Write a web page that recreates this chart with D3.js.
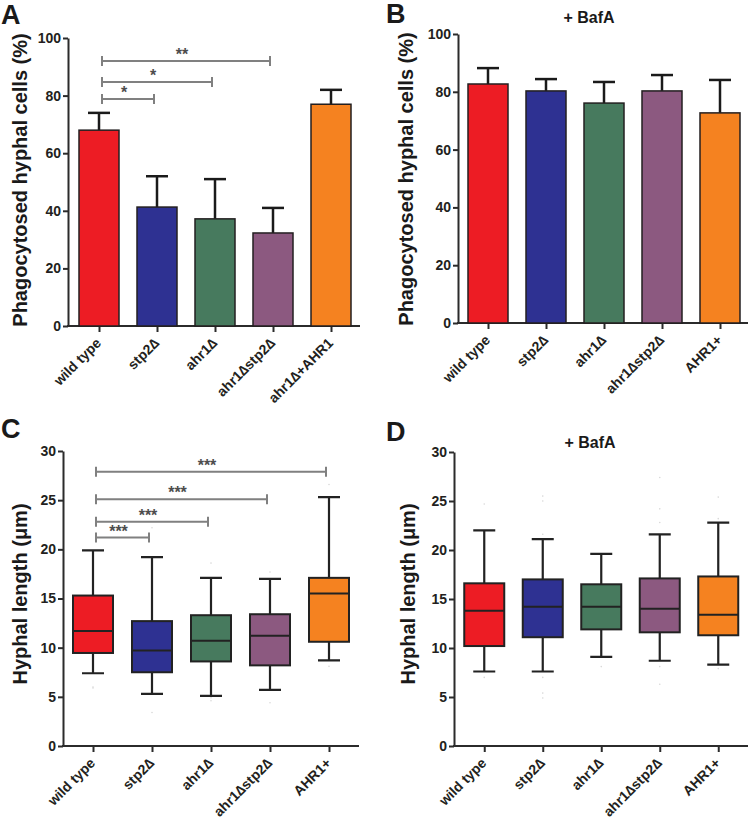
<!DOCTYPE html>
<html>
<head>
<meta charset="utf-8">
<script src="https://cdn.jsdelivr.net/npm/d3@7/dist/d3.min.js"></script>
<style>
  body { margin: 0; background: #fff; }
  svg { display: block; font-family: "Liberation Sans", Arial, Helvetica, sans-serif; }
</style>
</head>
<body>
<svg id="chart" width="750" height="823"></svg>
<script>
// ---------------- DATA ----------------
const categoriesA = ["wild type", "stp2\u2206", "ahr1\u2206", "ahr1\u2206stp2\u2206", "ahr1\u2206+AHR1"];
const categoriesB = ["wild type", "stp2\u2206", "ahr1\u2206", "ahr1\u2206stp2\u2206", "AHR1+"];
const colors = ["#ED1C24", "#2E3192", "#477A5E", "#8C5980", "#F58220"];

// Panel A: phagocytosed hyphal cells (%), mean and SD
const meanA = [68, 41.3, 37.2, 32.3, 77];
const sdA = [6, 10.7, 13.8, 8.7, 5];
// significance brackets A: [from index, to index, y value, label]
const bracketsA = [[0, 3, 92, "**"], [0, 2, 84.7, "*"], [0, 1, 78.8, "*"]];

// Panel B: + BafA
const meanB = [82.7, 80.3, 76.1, 80.3, 72.7];
const sdB = [5.5, 4.1, 7.3, 5.5, 11.4];

// Panel C: hyphal length (µm) box plots
const whiskerLowC = [7.4, 5.3, 5.1, 5.7, 8.7];
const q1C = [9.46, 7.5, 8.6, 8.2, 10.6];
const medianC = [11.7, 9.7, 10.7, 11.2, 15.5];
const q3C = [15.3, 12.7, 13.3, 13.4, 17.1];
const whiskerHighC = [19.9, 19.2, 17.1, 17.0, 25.3];
const outliersC = [[6.0, 5.9], [3.4, 22.2], [18.6, 4.9, 4.6], [17.7, 4.4], [26.6, 8.1]];
const bracketsC = [[0, 4, 27.9, "***"], [0, 3, 25.1, "***"], [0, 2, 22.8, "***"], [0, 1, 21.2, "***"]];

// Panel D: + BafA
const whiskerLowD = [7.6, 7.6, 9.1, 8.7, 8.3];
const q1D = [10.2, 11.1, 11.9, 11.6, 11.3];
const medianD = [13.8, 14.2, 14.2, 14.0, 13.4];
const q3D = [16.6, 17.0, 16.5, 17.1, 17.3];
const whiskerHighD = [22.0, 21.1, 19.6, 21.6, 22.8];
const outliersD = [[24.7, 7.0], [25.5, 25.0, 21.6, 7.0, 5.4, 4.9], [8.1], [27.4, 24.2, 22.8, 8.1, 6.3], [25.4, 23.2, 7.9]];

const ticksPct = [0, 20, 40, 60, 80, 100];
const ticksLen = [0, 5, 10, 15, 20, 25, 30];

// ---------------- DRAW ----------------
const svg = d3.select("#chart");
const AX = "#2b2b2b";

function setupPanel(cfg, cats, yDomain, yTicks) {
  const g = svg.append("g");
  const x = d3.scalePoint().domain(cats).range(cfg.xRange).padding(0.5);
  const y = d3.scaleLinear().domain(yDomain).range([cfg.yBot, cfg.yTop]);

  // y axis
  const ya = g.append("g").attr("transform", `translate(${cfg.axisX},0)`)
    .call(d3.axisLeft(y).tickValues(yTicks).tickSize(5).tickSizeOuter(0).tickPadding(2));
  ya.select(".domain").attr("stroke", AX).attr("stroke-width", 2);
  ya.selectAll(".tick line").attr("stroke", AX).attr("stroke-width", 2);
  ya.selectAll(".tick text").attr("fill", "#231f20").attr("font-size", 14).attr("font-weight", "bold")
    .attr("font-family", "Liberation Sans, Arial, sans-serif");

  // x axis
  const xa = g.append("g").attr("transform", `translate(0,${cfg.yBot})`)
    .call(d3.axisBottom(x).tickSize(6).tickSizeOuter(0));
  xa.select(".domain").remove();
  xa.selectAll(".tick line").attr("stroke", AX).attr("stroke-width", 2);
  xa.selectAll(".tick text").remove();
  g.append("line").attr("x1", cfg.axisX - 1).attr("x2", cfg.xEnd)
    .attr("y1", cfg.yBot).attr("y2", cfg.yBot).attr("stroke", AX).attr("stroke-width", 2);

  // x tick labels rotated
  g.selectAll(".xl").data(cats).enter().append("text")
    .attr("transform", d => `translate(${x(d) + 3},${cfg.yBot + 18}) rotate(-45)`)
    .attr("text-anchor", "end").attr("font-size", 14).attr("font-weight", "bold")
    .attr("fill", "#231f20").text(d => d);

  // y axis title
  g.append("text")
    .attr("transform", `translate(${cfg.labelX},${cfg.labelY}) rotate(-90)`)
    .attr("text-anchor", "middle").attr("font-size", 20).attr("font-weight", "bold")
    .attr("fill", "#1a1a1a").text(cfg.yLabel);

  // panel letter
  g.append("text").attr("x", cfg.letterX).attr("y", cfg.letterY)
    .attr("font-size", 27).attr("font-weight", "bold").attr("fill", "#1a1a1a").text(cfg.letter);

  if (cfg.title) {
    g.append("text").attr("x", cfg.titleX).attr("y", cfg.titleY).attr("text-anchor", "middle")
      .attr("font-size", 16).attr("font-weight", "bold").attr("fill", "#1a1a1a").text(cfg.title);
  }
  return { g, x, y };
}

function drawBrackets(p, cats, brackets) {
  brackets.forEach(b => {
    const x1 = p.x(cats[b[0]]) + 3, x2 = p.x(cats[b[1]]) - 3, yy = p.y(b[2]);
    p.g.append("path")
      .attr("d", `M${x1},${yy - 5}V${yy + 5}M${x1},${yy}H${x2}M${x2},${yy - 5}V${yy + 5}`)
      .attr("stroke", "#808080").attr("stroke-width", 2).attr("fill", "none");
    p.g.append("text").attr("x", (x1 + x2) / 2 - 4).attr("y", yy - 1).attr("text-anchor", "middle")
      .attr("font-size", 16).attr("font-weight", "bold").attr("fill", "#4d4d4d").text(b[3]);
  });
}

function drawBars(p, cats, means, sds) {
  const w = 40, cap = 22;
  cats.forEach((c, i) => {
    const cx = p.x(c);
    p.g.append("line").attr("x1", cx).attr("x2", cx).attr("y1", p.y(means[i])).attr("y2", p.y(means[i] + sds[i]))
      .attr("stroke", "#1a1a1a").attr("stroke-width", 2.5);
    p.g.append("line").attr("x1", cx - cap / 2).attr("x2", cx + cap / 2)
      .attr("y1", p.y(means[i] + sds[i])).attr("y2", p.y(means[i] + sds[i]))
      .attr("stroke", "#1a1a1a").attr("stroke-width", 2.5);
    p.g.append("rect").attr("x", cx - w / 2).attr("width", w)
      .attr("y", p.y(means[i])).attr("height", p.y(0) - p.y(means[i]))
      .attr("fill", colors[i]).attr("stroke", "#231f20").attr("stroke-width", 1.5);
  });
}

function drawBoxes(p, cats, lo, q1, med, q3, hi, outs) {
  const w = 40, cap = 22;
  cats.forEach((c, i) => {
    const cx = p.x(c);
    // outliers
    outs[i].forEach(v => {
      p.g.append("circle").attr("cx", cx).attr("cy", p.y(v)).attr("r", 0.8).attr("fill", "#d9d9d9");
    });
    // whiskers
    p.g.append("path")
      .attr("d", `M${cx},${p.y(hi[i])}V${p.y(q3[i])}M${cx - cap / 2},${p.y(hi[i])}H${cx + cap / 2}` +
                 `M${cx},${p.y(q1[i])}V${p.y(lo[i])}M${cx - cap / 2},${p.y(lo[i])}H${cx + cap / 2}`)
      .attr("stroke", "#222").attr("stroke-width", 2.2).attr("fill", "none");
    p.g.append("rect").attr("x", cx - w / 2).attr("width", w)
      .attr("y", p.y(q3[i])).attr("height", p.y(q1[i]) - p.y(q3[i]))
      .attr("fill", colors[i]).attr("stroke", "#222").attr("stroke-width", 2);
    p.g.append("line").attr("x1", cx - w / 2).attr("x2", cx + w / 2)
      .attr("y1", p.y(med[i])).attr("y2", p.y(med[i])).attr("stroke", "#222").attr("stroke-width", 2);
  });
}

const pA = setupPanel({ xRange: [70, 360], axisX: 68, xEnd: 360, yTop: 38, yBot: 326,
  labelX: 27, labelY: 180, yLabel: "Phagocytosed hyphal cells (%)", letter: "A", letterX: 1, letterY: 24 },
  categoriesA, [0, 100], ticksPct);
drawBrackets(pA, categoriesA, bracketsA);
drawBars(pA, categoriesA, meanA, sdA);

const pB = setupPanel({ xRange: [459, 749], axisX: 458, xEnd: 748, yTop: 34, yBot: 323,
  labelX: 413, labelY: 179, yLabel: "Phagocytosed hyphal cells (%)", letter: "B", letterX: 386, letterY: 23,
  title: "+ BafA", titleX: 589, titleY: 23 },
  categoriesB, [0, 100], ticksPct);
drawBars(pB, categoriesB, meanB, sdB);

const pC = setupPanel({ xRange: [63.5, 358.5], axisX: 63, xEnd: 359, yTop: 451, yBot: 746,
  labelX: 27, labelY: 594, yLabel: "Hyphal length (\u03bcm)", letter: "C", letterX: 1, letterY: 438 },
  categoriesB, [0, 30], ticksLen);
drawBrackets(pC, categoriesB, bracketsC);
drawBoxes(pC, categoriesB, whiskerLowC, q1C, medianC, q3C, whiskerHighC, outliersC);

const pD = setupPanel({ xRange: [455, 747.5], axisX: 454, xEnd: 748, yTop: 452, yBot: 746,
  labelX: 415, labelY: 594, yLabel: "Hyphal length (\u03bcm)", letter: "D", letterX: 386, letterY: 441,
  title: "+ BafA", titleX: 590, titleY: 448 },
  categoriesB, [0, 30], ticksLen);
drawBoxes(pD, categoriesB, whiskerLowD, q1D, medianD, q3D, whiskerHighD, outliersD);
</script>
</body>
</html>
